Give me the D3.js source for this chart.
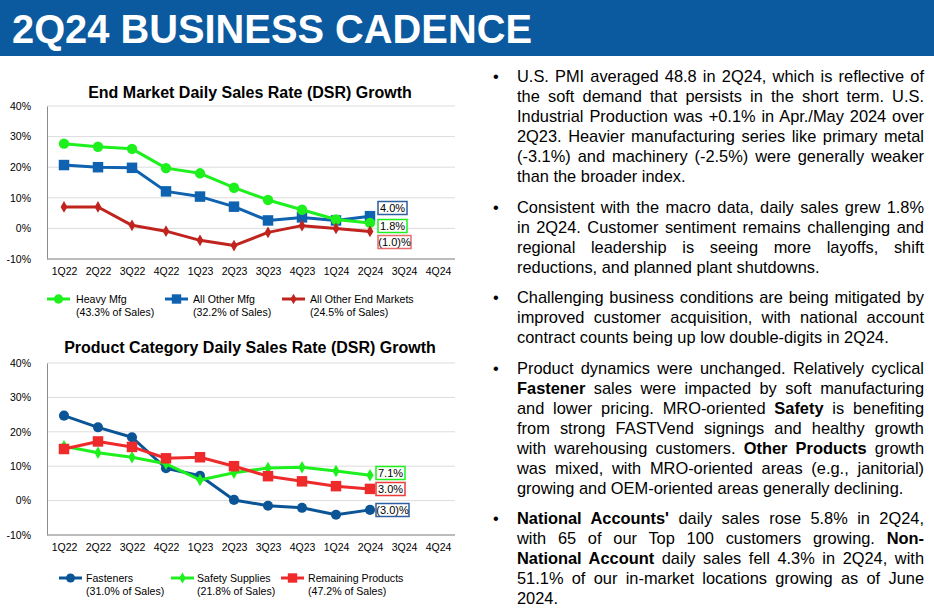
<!DOCTYPE html>
<html><head><meta charset="utf-8">
<script src="https://cdn.jsdelivr.net/npm/d3@7"></script>
<style>
body{margin:0;width:934px;height:613px;overflow:hidden;background:#fff;font-family:Arial,"Liberation Sans",sans-serif;}
#wrap{position:relative;width:934px;height:613px;}
svg{position:absolute;left:0;top:0;}
#txt{position:absolute;left:490px;top:66px;width:434px;font-size:16.4px;line-height:20px;color:#000;}
.para{position:relative;padding-left:27px;margin-bottom:10.5px;}
.bul{position:absolute;left:3px;top:0;}
.ln{text-align:justify;text-align-last:justify;white-space:nowrap;}
.ln.last{text-align-last:left;}
</style></head>
<body><div id="wrap"><svg id="chart" width="934" height="613"></svg><div id="txt"></div></div>
<script>
const quarters = ["1Q22","2Q22","3Q22","4Q22","1Q23","2Q23","3Q23","4Q23","1Q24","2Q24","3Q24","4Q24"];
const yTicks = [-10,0,10,20,30,40];

// End market chart
const heavyMfg = [27.7,26.7,26.0,19.7,18.0,13.3,9.3,6.1,2.9,1.8];
const otherMfg = [20.7,20.0,19.8,12.1,10.4,7.1,2.6,3.6,2.6,4.0];
const otherEnd = [7.0,7.0,1.0,-0.9,-3.9,-5.6,-1.3,0.9,0.0,-1.0];
const endLabels = ["4.0%","1.8%","(1.0)%"];

// Product category chart
const fasteners = [24.7,21.3,18.4,9.4,7.2,0.2,-1.5,-2.1,-4.1,-2.7];
const safety = [15.8,13.9,12.6,10.7,6.0,8.1,9.5,9.7,8.6,7.4];
const remaining = [15.0,17.2,15.6,12.3,12.6,10.0,7.1,5.6,4.2,3.4];
const prodLabels = ["7.1%","3.0%","(3.0)%"];

const bullets = [
 ["U.S. PMI averaged 48.8 in 2Q24, which is reflective of","the soft demand that persists in the short term. U.S.","Industrial Production was +0.1% in Apr./May 2024 over","2Q23. Heavier manufacturing series like primary metal","(-3.1%) and machinery (-2.5%) were generally weaker","than the broader index."],
 ["Consistent with the macro data, daily sales grew 1.8%","in 2Q24. Customer sentiment remains challenging and","regional leadership is seeing more layoffs, shift","reductions, and planned plant shutdowns."],
 ["Challenging business conditions are being mitigated by","improved customer acquisition, with national account","contract counts being up low double-digits in 2Q24."],
 ["Product dynamics were unchanged. Relatively cyclical","<b>Fastener</b> sales were impacted by soft manufacturing","and lower pricing. MRO-oriented <b>Safety</b> is benefiting","from strong FASTVend signings and healthy growth","with warehousing customers. <b>Other Products</b> growth","was mixed, with MRO-oriented areas (e.g., janitorial)","growing and OEM-oriented areas generally declining."],
 ["<b>National Accounts'</b> daily sales rose 5.8% in 2Q24,","with 65 of our Top 100 customers growing. <b>Non-</b>","<b>National Account</b> daily sales fell 4.3% in 2Q24, with","51.1% of our in-market locations growing as of June","2024."]
];

const FONT = "Arial, Liberation Sans, sans-serif";
const svg = d3.select("#chart");
// header
svg.append("rect").attr("x",0).attr("y",0).attr("width",934).attr("height",56).attr("fill","#0b5aa0");
svg.append("text").attr("x",12).attr("y",43).attr("fill","#fff").attr("font-size",40).attr("font-weight","bold")
  .attr("font-family",FONT).attr("textLength",520).attr("lengthAdjust","spacingAndGlyphs").text("2Q24 BUSINESS CADENCE");

function symType(s){ return s==="circle"?d3.symbolCircle:s==="square"?d3.symbolSquare:d3.symbolDiamond; }

function drawChart(cfg){
  const g = svg.append("g");
  const x = d3.scalePoint().domain(quarters).range([cfg.x0+17, cfg.x1-17]);
  const y = d3.scaleLinear().domain([-10,40]).range([cfg.yBot, cfg.yTop]);
  g.append("text").attr("x",cfg.titleX).attr("y",cfg.titleY).attr("text-anchor","middle")
   .attr("font-size",16).attr("font-weight","bold").attr("font-family",FONT).text(cfg.title);
  g.selectAll(".grid").data(yTicks.filter(t=>t>-10)).join("line")
   .attr("x1",cfg.x0).attr("x2",cfg.x1).attr("y1",d=>y(d)).attr("y2",d=>y(d))
   .attr("stroke","#dcdcdc").attr("stroke-width",1);
  const ya = d3.axisLeft(y).tickValues(yTicks).tickFormat(d=>d+"%").tickSize(0).tickPadding(16);
  const yg = g.append("g").attr("transform",`translate(${cfg.x0},0)`).call(ya);
  yg.select(".domain").attr("stroke","#8c8c8c");
  yg.selectAll("text").attr("font-size",10.5).attr("font-family",FONT).attr("fill","#000");
  const xa = d3.axisBottom(x).tickSize(0).tickPadding(9);
  const xg = g.append("g").attr("transform",`translate(0,${cfg.yBot})`).call(xa);
  xg.select(".domain").attr("d",`M${cfg.x0},0H${cfg.x1}`).attr("stroke","#a6a6a6").attr("stroke-width",1.5);
  xg.selectAll("text").attr("font-size",10.5).attr("font-family",FONT).attr("fill","#000");

  cfg.drawOrder.forEach(s=>{
    const line = d3.line().x((d,i)=>x(quarters[i])).y(d=>y(d));
    g.append("path").datum(s.data).attr("d",line).attr("fill","none").attr("stroke",s.color).attr("stroke-width",3).attr("stroke-linejoin","round");
    const sym = d3.symbol().type(symType(s.shape)).size(s.size);
    g.selectAll(null).data(s.data).join("path").attr("d",sym)
     .attr("transform",(d,i)=>`translate(${x(quarters[i])},${y(d)})`).attr("fill",s.color);
  });
  cfg.labelOrder.forEach((s,k)=>{
    const lx = cfg.labelX, ly = cfg.labelY[k];
    const w = s.label.length>4 ? 33 : 29;
    g.append("rect").attr("x",lx).attr("y",ly-6.5).attr("width",w).attr("height",13).attr("fill","#fff").attr("stroke",s.boxColor).attr("stroke-width",1.5);
    g.append("text").attr("x",lx+w/2).attr("y",ly+4).attr("text-anchor","middle").attr("font-size",11)
     .attr("font-family",FONT).text(s.label);
  });
  cfg.legendOrder.forEach((s,k)=>{
    const lg = cfg.legend[k];
    g.append("line").attr("x1",lg.x).attr("x2",lg.x+23).attr("y1",cfg.legY).attr("y2",cfg.legY).attr("stroke",s.color).attr("stroke-width",3);
    const sym = d3.symbol().type(symType(s.shape)).size(s.size*0.8);
    g.append("path").attr("d",sym).attr("transform",`translate(${lg.x+11.5},${cfg.legY})`).attr("fill",s.color);
    const t = g.append("text").attr("font-size",10.6).attr("font-family",FONT);
    t.append("tspan").attr("x",lg.tx).attr("y",cfg.legY+3.5).text(s.name);
    t.append("tspan").attr("x",lg.tx).attr("y",cfg.legY+17).text(s.share);
  });
}

const sHeavy = {name:"Heavy Mfg",share:"(43.3% of Sales)",data:heavyMfg,color:"#1ef01e",shape:"circle",size:85,label:endLabels[1],boxColor:"#1ef01e"};
const sOther = {name:"All Other Mfg",share:"(32.2% of Sales)",data:otherMfg,color:"#0e62b0",shape:"square",size:110,label:endLabels[0],boxColor:"#2e5f9e"};
const sEnd = {name:"All Other End Markets",share:"(24.5% of Sales)",data:otherEnd,color:"#c0241f",shape:"diamond",size:40,label:endLabels[2],boxColor:"#e86a6a"};

drawChart({
  title:"End Market Daily Sales Rate (DSR) Growth", titleX:250, titleY:98,
  x0:47, x1:455, yTop:106, yBot:259,
  labelX:378, labelY:[208,226,242],
  legY:299,
  legend:[{x:47,tx:76},{x:165,tx:193},{x:282,tx:310}],
  drawOrder:[sOther,sHeavy,sEnd],
  labelOrder:[sOther,sHeavy,sEnd],
  legendOrder:[sHeavy,sOther,sEnd]
});

const sFast = {name:"Fasteners",share:"(31.0% of Sales)",data:fasteners,color:"#0b5597",shape:"circle",size:80,label:prodLabels[2],boxColor:"#2e5f9e"};
const sSafe = {name:"Safety Supplies",share:"(21.8% of Sales)",data:safety,color:"#1ef01e",shape:"diamond",size:45,label:prodLabels[0],boxColor:"#1ef01e"};
const sRem = {name:"Remaining Products",share:"(47.2% of Sales)",data:remaining,color:"#ee2a2a",shape:"square",size:110,label:prodLabels[1],boxColor:"#ee3a3a"};

drawChart({
  title:"Product Category Daily Sales Rate (DSR) Growth", titleX:250, titleY:353,
  x0:47, x1:455, yTop:363, yBot:535,
  labelX:376, labelY:[473,489,510],
  legY:578,
  legend:[{x:59,tx:86},{x:171,tx:197},{x:281,tx:308}],
  drawOrder:[sFast,sSafe,sRem],
  labelOrder:[sSafe,sRem,sFast],
  legendOrder:[sFast,sSafe,sRem]
});

const txt = d3.select("#txt");
bullets.forEach(p=>{
  const d = txt.append("div").attr("class","para");
  d.append("span").attr("class","bul").text("•");
  p.forEach((l,i)=>{
    d.append("div").attr("class","ln"+(i===p.length-1?" last":"")).html(l);
  });
});
</script></body></html>
